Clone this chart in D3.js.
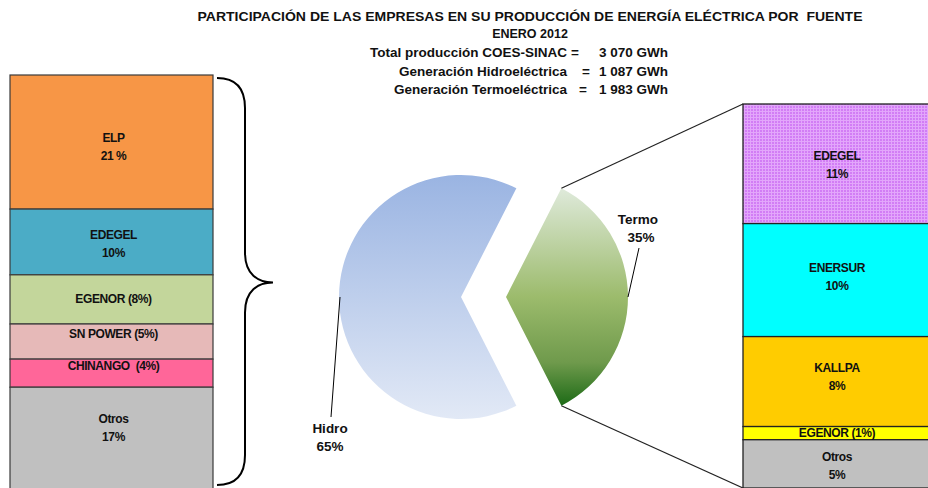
<!DOCTYPE html>
<html>
<head>
<meta charset="utf-8">
<script src="https://cdn.jsdelivr.net/npm/d3@7"></script>
<style>
  body { margin: 0; background: #fff; }
  svg { display: block; font-family: "Liberation Sans", Arial, sans-serif; }
</style>
</head>
<body>
<script>
// datos de enero 2012 (porcentajes sobre la producción total)
const titulo = "PARTICIPACIÓN DE LAS EMPRESAS EN SU PRODUCCIÓN DE ENERGÍA ELÉCTRICA POR  FUENTE";
const subtitulo = "ENERO 2012";
const resumenNombres = ["Total producción COES-SINAC", "Generación Hidroeléctrica", "Generación Termoeléctrica"];
const resumenValores = ["3 070 GWh", "1 087 GWh", "1 983 GWh"];

const fuentes = ["Termo", "Hidro"];
const fuenteValores = [35, 65];

const hidroEmpresas = ["ELP", "EDEGEL", "EGENOR", "SN POWER", "CHINANGO", "Otros"];
const hidroValores = [21.0, 10.3, 7.7, 5.5, 4.4, 16.1];
const hidroEtiquetas = [["ELP", "21 %"], ["EDEGEL", "10%"], ["EGENOR (8%)"], ["SN POWER (5%)"], ["CHINANGO  (4%)"], ["Otros", "17%"]];

const termoEmpresas = ["EDEGEL", "ENERSUR", "KALLPA", "EGENOR", "Otros"];
const termoValores = [10.9, 10.3, 8.2, 1.2, 4.4];
const termoEtiquetas = [["EDEGEL", "11%"], ["ENERSUR", "10%"], ["KALLPA", "8%"], ["EGENOR (1%)"], ["Otros", "5%"]];

const width = 928, height = 488;

const hidroColor = d3.scaleOrdinal().domain(hidroEmpresas)
    .range(["#f79646", "#4bacc6", "#c3d69b", "#e6b9b8", "#ff6699", "#c0c0c0"]);
const termoColor = d3.scaleOrdinal().domain(termoEmpresas)
    .range(["url(#cuadros)", "#00ffff", "#ffcc00", "#ffff00", "#c0c0c0"]);

const svg = d3.select("body").append("svg")
    .attr("width", width)
    .attr("height", height);

const defs = svg.append("defs");

// trama morada de EDEGEL (termo)
const pat = defs.append("pattern")
    .attr("id", "cuadros")
    .attr("patternUnits", "userSpaceOnUse")
    .attr("width", 3).attr("height", 3);
pat.append("rect").attr("width", 3).attr("height", 3).attr("fill", "#d27df5");
pat.append("rect").attr("width", 3).attr("height", 1).attr("fill", "#e3a6fb");
pat.append("rect").attr("width", 1).attr("height", 3).attr("fill", "#e3a6fb");

// ---- titulos
const head = svg.append("g")
    .attr("font-weight", "bold")
    .attr("font-size", 12.5)
    .attr("fill", "#111");

head.append("text").attr("x", 530).attr("y", 21).attr("text-anchor", "middle")
    .style("white-space", "pre")
    .attr("textLength", 665).attr("lengthAdjust", "spacingAndGlyphs")
    .text(titulo);
head.append("text").attr("x", 530).attr("y", 38).attr("text-anchor", "middle").text(subtitulo);

const eqX = [575, 586, 583];
resumenNombres.forEach(function (n, i) {
    var y = 57 + i * 18.5;
    var t = head.append("g").attr("font-size", 13.5);
    t.append("text").attr("x", 567).attr("y", y).attr("text-anchor", "end").text(n);
    t.append("text").attr("x", eqX[i]).attr("y", y).attr("text-anchor", "middle").text("=");
    t.append("text").attr("x", 668).attr("y", y).attr("text-anchor", "end").text(resumenValores[i]);
});

// ---- barra izquierda (hidro)
const yL = d3.scaleLinear().domain([0, d3.sum(hidroValores)]).range([75, 490]);
const xL = d3.scaleBand().domain(["hidro"]).range([10, 213]);

const stackL = d3.cumsum(hidroValores);
const segL = hidroEmpresas.map((e, i) => ({
    name: e, y0: yL(stackL[i] - hidroValores[i]), y1: yL(stackL[i]), label: hidroEtiquetas[i]
}));

const barL = svg.append("g");
barL.selectAll("rect")
    .data(segL)
    .join("rect")
    .attr("x", xL("hidro"))
    .attr("width", xL.bandwidth())
    .attr("y", d => d.y0)
    .attr("height", d => d.y1 - d.y0)
    .attr("fill", d => hidroColor(d.name))
    .attr("stroke", "#3a3a3a")
    .attr("stroke-width", 1.2);

// ajustes manuales de la posición de algunas etiquetas
const nudgeL = { "ELP": 5, "EDEGEL": 2, "SN POWER": -8, "CHINANGO": -7, "Otros": -10 };
const nudgeR = { "EDEGEL": 1, "ENERSUR": -3, "KALLPA": -5, "Otros": 2 };

function drawLabels(g, segs, cx, nudge) {
    const t = g.selectAll("text.lbl")
        .data(segs)
        .join("text")
        .attr("class", "lbl")
        .attr("text-anchor", "middle")
        .attr("font-weight", "bold")
        .attr("font-size", 12)
        .attr("letter-spacing", -0.4)
        .attr("fill", "#111")
        .style("white-space", "pre")
        .attr("transform", d => {
            const yc = (d.y0 + Math.min(d.y1, height)) / 2 + (nudge[d.name] || 0);
            return `translate(${cx},${yc})`;
        });
    t.selectAll("tspan")
        .data(d => d.label.map((s, i) => ({ s: s, i: i, n: d.label.length })))
        .join("tspan")
        .attr("x", 0)
        .attr("y", d => (d.i - (d.n - 1) / 2) * 18 + 4)
        .text(d => d.s);
}
drawLabels(barL, segL, xL("hidro") + xL.bandwidth() / 2 + 2, nudgeL);

// llave
const b0 = yL.range()[0] + 3, b1 = 485, bm = (b0 + b1) / 2 + 1;
svg.append("path")
    .attr("d", `M217,${b0} C236,${b0} 245,${b0 + 10} 245,${b0 + 30} L245,${bm - 30}
                C245,${bm - 8} 258,${bm} 273,${bm} C258,${bm} 245,${bm + 8} 245,${bm + 30}
                L245,${b1 - 30} C245,${b1 - 10} 236,${b1} 217,${b1}`)
    .attr("fill", "none")
    .attr("stroke", "#000")
    .attr("stroke-width", 2);

// ---- torta
const cx = 461, cy = 297, r = 122, explode = 45;
const pie = d3.pie().sort(null)
    .startAngle(Math.PI / 2 - Math.PI * 0.35)
    .endAngle(Math.PI / 2 - Math.PI * 0.35 + 2 * Math.PI);
const arcs = pie(fuenteValores);
const arc = d3.arc().innerRadius(0).outerRadius(r);

// degradados en coordenadas locales de la torta (origen en el centro)
const gHidro = defs.append("linearGradient").attr("id", "gHidro")
    .attr("gradientUnits", "userSpaceOnUse")
    .attr("x1", 0).attr("x2", 0).attr("y1", -r).attr("y2", r);
gHidro.append("stop").attr("offset", 0).attr("stop-color", "#9ab4e2");
gHidro.append("stop").attr("offset", 1).attr("stop-color", "#e2e9f6");

const gTermo = defs.append("linearGradient").attr("id", "gTermo")
    .attr("gradientUnits", "userSpaceOnUse")
    .attr("x1", 0).attr("x2", 0).attr("y1", -109).attr("y2", 109);
gTermo.append("stop").attr("offset", 0).attr("stop-color", "#dfeadb");
gTermo.append("stop").attr("offset", 0.5).attr("stop-color", "#9cbb6c");
gTermo.append("stop").attr("offset", 0.8).attr("stop-color", "#6f9a4c");
gTermo.append("stop").attr("offset", 1).attr("stop-color", "#1c6a16");

const pieG = svg.append("g").attr("transform", `translate(${cx},${cy})`);
pieG.selectAll("path")
    .data(arcs)
    .join("path")
    .attr("d", arc)
    .attr("transform", (d, i) => fuentes[i] === "Termo" ? `translate(${explode},0)` : null)
    .attr("fill", (d, i) => fuentes[i] === "Termo" ? "url(#gTermo)" : "url(#gHidro)");

// etiquetas de la torta
const pieLbl = svg.append("g")
    .attr("font-weight", "bold")
    .attr("font-size", 13.5)
    .attr("fill", "#111")
    .attr("text-anchor", "middle");

const hidroPt = [cx - r + 1, cy];
svg.append("line").attr("x1", hidroPt[0]).attr("y1", hidroPt[1]).attr("x2", 331).attr("y2", 417)
    .attr("stroke", "#000").attr("stroke-width", 1);
pieLbl.append("text").attr("x", 330).attr("y", 433).text(fuentes[1]);
pieLbl.append("text").attr("x", 330).attr("y", 451).text(fuenteValores[1] + "%");

const termoPt = [cx + explode + r, cy];
svg.append("line").attr("x1", termoPt[0]).attr("y1", termoPt[1]).attr("x2", 639).attr("y2", 248)
    .attr("stroke", "#000").attr("stroke-width", 1);
pieLbl.append("text").attr("x", 638).attr("y", 224).text(fuentes[0]);
pieLbl.append("text").attr("x", 641).attr("y", 242).text(fuenteValores[0] + "%");

// ---- barra derecha (termo)
const yR = d3.scaleLinear().domain([0, d3.sum(termoValores)]).range([104, 488]);
const xR = d3.scaleBand().domain(["termo"]).range([743, 937]);

const stackR = d3.cumsum(termoValores);
const segR = termoEmpresas.map((e, i) => ({
    name: e, y0: yR(stackR[i] - termoValores[i]), y1: yR(stackR[i]), label: termoEtiquetas[i]
}));

const barR = svg.append("g");
barR.selectAll("rect")
    .data(segR)
    .join("rect")
    .attr("x", xR("termo"))
    .attr("width", xR.bandwidth())
    .attr("y", d => d.y0)
    .attr("height", d => d.y1 - d.y0)
    .attr("fill", d => termoColor(d.name))
    .attr("stroke", "#222")
    .attr("stroke-width", 1.3);
drawLabels(barR, segR, xR("termo") + xR.bandwidth() / 2 - 3, nudgeR);

// conectores de la porción termo a la barra
const tA = arcs[0];
const topPt = [cx + explode + r * Math.sin(tA.startAngle), cy - r * Math.cos(tA.startAngle)];
const botPt = [cx + explode + r * Math.sin(tA.endAngle), cy - r * Math.cos(tA.endAngle)];
svg.append("line")
    .attr("x1", topPt[0]).attr("y1", topPt[1])
    .attr("x2", xR("termo")).attr("y2", yR(0))
    .attr("stroke", "#222").attr("stroke-width", 1.2);
svg.append("line")
    .attr("x1", botPt[0]).attr("y1", botPt[1])
    .attr("x2", xR("termo")).attr("y2", yR(d3.sum(termoValores)))
    .attr("stroke", "#222").attr("stroke-width", 1.2);
</script>
</body>
</html>
